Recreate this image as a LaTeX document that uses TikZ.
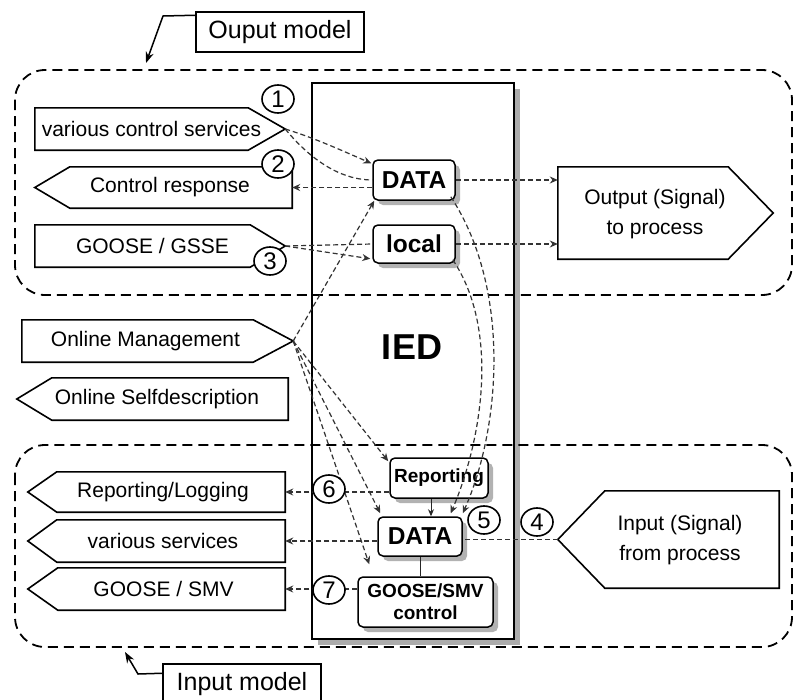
\documentclass[tikz,border=0pt]{standalone}
\usepackage{fontspec}
\setmainfont{Liberation Sans}
\usetikzlibrary{arrows.meta,calc,shadows,shapes.geometric}
\newcommand\shR[2]{\makebox[0pt]{\kern#1\relax#2}}
\newcommand\shL[2]{\makebox[0pt]{#2\kern#1\relax}}
\begin{document}
\begin{tikzpicture}[x=1pt,y=-1pt,
  lab/.style={font=\fontsize{21}{24}\selectfont},
  body/.style={minimum height=42pt, inner sep=0pt, lab},
  outl/.style={draw=black, line width=1.6pt, line join=miter},
  shad/.style={drop shadow={shadow xshift=5pt,shadow yshift=-5pt,fill=gray!60,opacity=1}},
  inbox/.style={draw, rounded corners=5pt, line width=1.5pt, fill=white, inner sep=0pt, shad, font=\bfseries\fontsize{24.5}{26}\selectfont},
  dl/.style={dash pattern=on 5pt off 3pt, line width=1.2pt, draw=black!80},
  conn/.style={dl, -{Stealth[length=8pt,width=7pt]}},
  solidarr/.style={line width=1pt, draw=black!85, -{Stealth[length=7pt,width=6pt]}},
  num/.style={ellipse, draw, line width=1.6pt, minimum width=32pt, minimum height=28pt, inner sep=0pt, fill=white, font=\fontsize{24}{24}\selectfont},
  model/.style={dash pattern=on 10pt off 6pt, line width=1.8pt, rounded corners=30pt},
  mlab/.style={draw, line width=1.5pt, inner sep=0pt, minimum height=40pt, fill=white, font=\fontsize{25}{27}\selectfont},
  marr/.style={line width=1.5pt, -{Stealth[length=11pt,width=8pt]}},
]
\fill[white] (0,0) rectangle (795,699);
\useasboundingbox (0,0) rectangle (795,699);

% IED frame
\node[draw, line width=1.5pt, fill=white, minimum width=202pt, minimum height=556pt, inner sep=0pt,
      drop shadow={shadow xshift=6pt,shadow yshift=-6pt,fill=gray!65,opacity=1}] (ied) at (413,361) {};
\node[font=\bfseries\fontsize{36}{36}\selectfont] (iedtxt) at (412,347) {IED};

% model regions
\draw[model] (15,70) rectangle (792,295);
\draw[model] (15,445) rectangle (792,647);

% model labels
\node[mlab, minimum width=168pt] (outlab) at (280,32) {Ouput model};
\draw[marr] ($(outlab.north west)+(0,4)$) -- (163,16) -- (146,63);
\node[mlab, minimum width=158pt] (inlab) at (242,684) {Input model};
\draw[marr] ($(inlab.north west)+(0,10)$) -- (138,674) -- (125,652);

% left signal shapes (towards IED)
\node[body, minimum width=213pt] (vcs) at (141.5,129) {\shR{20pt}{various control services}};
\coordinate (vcs-tip) at ($(vcs.east)+(37,0)$);
\draw[outl] (vcs.north west) -- (vcs.north east) -- (vcs-tip) -- (vcs.south east) -- (vcs.south west) -- cycle;

\node[body, minimum width=222pt, minimum height=41pt] (cr) at (181,187.5) {\shL{22pt}{Control response}};
\coordinate (cr-tip) at ($(cr.west)+(-35,0)$);
\draw[outl] (cr.north east) -- (cr.north west) -- (cr-tip) -- (cr.south west) -- (cr.south east) -- cycle;

\node[body, minimum width=215pt] (gg) at (142.5,246) {\shR{20pt}{GOOSE / GSSE}};
\coordinate (gg-tip) at ($(gg.east)+(35,0)$);
\draw[outl] (gg.north west) -- (gg.north east) -- (gg-tip) -- (gg.south east) -- (gg.south west) -- cycle;

\node[body, minimum width=231pt] (om) at (137.5,341) {\shR{16pt}{Online Management}};
\coordinate (om-tip) at ($(om.east)+(40,0)$);
\draw[outl] (om.north west) -- (om.north east) -- (om-tip) -- (om.south east) -- (om.south west) -- cycle;

\node[body, minimum width=236pt] (os) at (170,399) {\shL{26pt}{Online Selfdescription}};
\coordinate (os-tip) at ($(os.west)+(-35,0)$);
\draw[outl] (os.north east) -- (os.north west) -- (os-tip) -- (os.south west) -- (os.south east) -- cycle;

\node[body, minimum width=228pt, minimum height=40pt] (rl) at (171,492) {\shL{16pt}{Reporting/Logging}};
\coordinate (rl-tip) at ($(rl.west)+(-29,0)$);
\draw[outl] (rl.north east) -- (rl.north west) -- (rl-tip) -- (rl.south west) -- (rl.south east) -- cycle;

\node[body, minimum width=228pt] (vs) at (171,541) {\shL{16pt}{various services}};
\coordinate (vs-tip) at ($(vs.west)+(-29,0)$);
\draw[outl] (vs.north east) -- (vs.north west) -- (vs-tip) -- (vs.south west) -- (vs.south east) -- cycle;

\node[body, minimum width=227pt] (gs) at (171.5,589) {\shL{16pt}{GOOSE / SMV}};
\coordinate (gs-tip) at ($(gs.west)+(-30,0)$);
\draw[outl] (gs.north east) -- (gs.north west) -- (gs-tip) -- (gs.south west) -- (gs.south east) -- cycle;

% process shapes
\node[body, minimum width=170pt, minimum height=92pt, font=\fontsize{21}{30}\selectfont] (out) at (643,213)
  {\shR{24pt}{\begin{tabular}{@{}c@{}}Output (Signal)\\to process\end{tabular}}};
\coordinate (out-tip) at ($(out.east)+(45,0)$);
\draw[outl] (out.north west) -- (out.north east) -- (out-tip) -- (out.south east) -- (out.south west) -- cycle;

\node[body, minimum width=174pt, minimum height=97pt, font=\fontsize{21}{30}\selectfont] (in) at (692,539.5)
  {\shL{24pt}{\begin{tabular}{@{}c@{}}Input (Signal)\\from process\end{tabular}}};
\coordinate (in-tip) at ($(in.west)+(-47,0)$);
\draw[outl] (in.north east) -- (in.north west) -- (in-tip) -- (in.south west) -- (in.south east) -- cycle;

% inner IED boxes
\node[inbox, minimum width=82pt, minimum height=40pt] (d1) at (414,180) {DATA};
\node[inbox, minimum width=82pt, minimum height=38pt] (loc) at (414,244) {local};
\node[inbox, minimum width=98pt, minimum height=40pt, font=\bfseries\fontsize{19}{21}\selectfont] (rep) at (439,478) {Reporting};
\node[inbox, minimum width=84pt, minimum height=39pt] (d2) at (420,536.5) {DATA};
\node[inbox, minimum width=135pt, minimum height=50pt, align=center, font=\bfseries\fontsize{19}{22}\selectfont] (gc) at (425.5,602) {GOOSE/SMV\\control};

% connectors, output model
\draw[conn] (vcs-tip) .. controls (315,138) and (345,152) .. ($(d1.north west)+(-1,4)$);
\draw[dl] (vcs-tip) .. controls (315,165) and (345,180) .. (d1.west);
\draw[conn] (d1.west |- cr.east) -- (cr.east);
\draw[conn] (d1.east) -- (d1.east -| out.west);
\draw[dl] (gg-tip) -- (loc.west);
\draw[conn] (gg-tip) -- ($(loc.south west)+(-2,-5)$);
\draw[conn] (loc.east) -- (loc.east -| out.west);

% online management
\draw[conn] (om-tip) -- ($(d1.south west)+(2,0)$);
\draw[conn] (om-tip) -- ($(rep.north west)+(-1,4)$);
\draw[conn] (om-tip) -- ($(d2.north west)+(3,-3)$);
\draw[conn] (om-tip) -- ($(gc.north west)+(12,-12)$);

% data flow down to input data
\draw[conn] ($(d1.south east)+(-5,-4)$) .. controls (512,290) and (500,430) .. ($(d2.north east)+(0,-3)$);
\draw[conn] ($(loc.south east)+(-3,-4)$) .. controls (500,330) and (482,440) .. ($(d2.north east)+(-12,-3)$);

% input model
\draw[dl] (in-tip) -- (in-tip -| d2.east);
\draw[conn] (d2.west |- vs.east) -- (vs.east);
\draw[conn] (rep.west |- rl.east) -- (rl.east);
\coordinate (rs) at ($(rep.south)+(-8,0)$);
\draw[solidarr] (rs) -- (rs |- d2.north);
\draw[line width=1pt, draw=black!85] (d2.south) -- (d2.south |- gc.north);
\draw[conn] (gc.west |- gs.east) -- (gs.east);

% numbers
\node[num] (c1) at (278,99) {1};
\node[num] (c2) at (278,164) {2};
\node[num] (c3) at (270,261) {3};
\node[num] (c4) at (537,522) {4};
\node[num] (c5) at (484,520) {5};
\node[num] (c6) at (329,489) {6};
\node[num] (c7) at (329,590) {7};
\end{tikzpicture}
\end{document}
